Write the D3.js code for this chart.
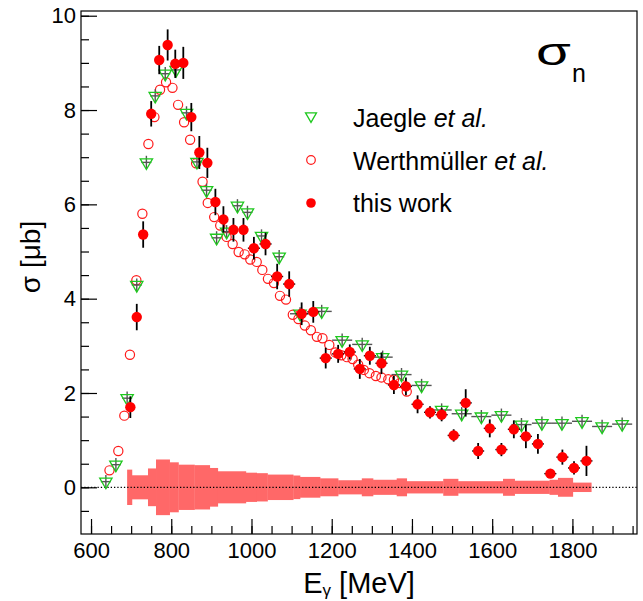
<!DOCTYPE html>
<html>
<head>
<meta charset="utf-8">
<script src="https://cdn.jsdelivr.net/npm/d3@7"></script>
<style>
  body { margin: 0; background: #fff; }
  svg text { font-family: "Liberation Sans", Arial, Helvetica, sans-serif; }
</style>
</head>
<body>
<div id="container"></div>
<script>
/* CONSTANTS AND GLOBALS */
const width = 643,
  height = 601,
  frame = { left: 81, right: 637, top: 11, bottom: 534 };

/* DATA */
// this work (red filled)
const thisE = [698, 714, 730, 750, 770, 791, 810, 830, 850, 870, 890, 910, 930, 955, 980,
  1006, 1035, 1064, 1094, 1125, 1154, 1185, 1216, 1245, 1270, 1295, 1324, 1355, 1385, 1414,
  1445, 1474, 1504, 1534, 1565, 1594, 1623, 1654, 1684, 1714, 1745, 1775, 1804, 1835];
const thisV = [1.70, 3.61, 5.36, 7.92, 9.06, 9.38, 8.98, 9.00, 7.85, 7.10, 6.88, 6.05, 5.68, 5.46, 5.46,
  5.07, 5.16, 4.47, 4.31, 3.68, 3.72, 2.74, 2.83, 2.87, 2.51, 2.79, 2.63, 2.17, 2.14, 1.76,
  1.59, 1.54, 1.10, 1.79, 0.77, 1.25, 0.80, 1.23, 1.08, 0.92, 0.29, 0.64, 0.41, 0.56];
const thisErr = [0.23, 0.28, 0.28, 0.27, 0.30, 0.33, 0.30, 0.34, 0.30, 0.35, 0.32, 0.28, 0.28, 0.25, 0.25,
  0.24, 0.24, 0.27, 0.27, 0.24, 0.23, 0.22, 0.19, 0.16, 0.21, 0.19, 0.23, 0.19, 0.19, 0.19,
  0.13, 0.14, 0.13, 0.29, 0.17, 0.19, 0.14, 0.19, 0.25, 0.21, 0.08, 0.16, 0.14, 0.32];

// Jaegle et al. (green open triangles)
const jaeE = [637, 662, 690, 714, 738, 760, 785, 812, 838, 864, 888, 913, 938, 965, 990,
  1025, 1069, 1121, 1175, 1226, 1276, 1327, 1374, 1424, 1474, 1524, 1573, 1623, 1673, 1724,
  1774, 1824, 1874, 1924];
const jaeV = [0.12, 0.48, 1.89, 4.29, 6.89, 8.30, 8.77, 8.85, 7.94, 6.90, 6.30, 5.29, 5.42, 5.97, 5.83,
  5.33, 4.89, 3.68, 3.73, 3.12, 3.03, 2.76, 2.39, 2.16, 1.64, 1.56, 1.50, 1.53, 1.33, 1.36,
  1.36, 1.40, 1.29, 1.34];

// Werthmüller et al. (red open circles)
const werE = [646, 668, 683, 697, 713, 728, 743, 758, 772, 787, 803, 817, 832, 847, 862,
  878, 891, 907, 922, 938, 953, 968, 983, 997, 1013, 1027, 1041, 1056, 1071, 1086,
  1103, 1117, 1133, 1148, 1163, 1177, 1194, 1209, 1224, 1238, 1252, 1266, 1280, 1294, 1310,
  1324, 1341, 1355, 1370, 1387];
const werV = [0.36, 0.77, 1.52, 2.81, 4.39, 5.80, 7.28, 7.85, 8.43, 8.59, 8.47, 8.11, 7.74, 7.37, 6.87,
  6.48, 6.03, 5.73, 5.55, 5.31, 5.16, 4.99, 4.94, 4.83, 4.78, 4.61, 4.42, 4.33, 4.06, 3.98,
  3.66, 3.57, 3.43, 3.33, 3.19, 3.16, 3.02, 2.86, 2.80, 2.76, 2.72, 2.60, 2.49, 2.42, 2.36,
  2.33, 2.29, 2.28, 2.21, 2.03];

// systematic band (bin edges, half height)
const bandEdges = [690, 702, 742, 762, 796, 818, 858, 896, 916, 986, 1013, 1040, 1104, 1121, 1171,
  1216, 1275, 1303, 1362, 1387, 1478, 1515, 1627, 1656, 1743, 1764, 1801, 1847];
const bandHalf = [0.375, 0.255, 0.40, 0.59, 0.53, 0.48, 0.47, 0.41, 0.34, 0.31, 0.30, 0.27, 0.25, 0.22,
  0.19, 0.15, 0.19, 0.16, 0.19, 0.13, 0.18, 0.13, 0.18, 0.14, 0.16, 0.20, 0.10];

const xMajor = [600, 800, 1000, 1200, 1400, 1600, 1800];
const yMajor = [0, 2, 4, 6, 8, 10];

const thisWork = thisE.map((e, i) => ({ e: e, v: thisV[i], err: thisErr[i] }));
const jaegle = jaeE.map((e, i) => ({ e: e, v: jaeV[i] }));
const werth = werE.map((e, i) => ({ e: e, v: werV[i] }));
const band = bandHalf.map((h, i) => ({ lo: bandEdges[i], hi: bandEdges[i + 1], h: h }));

const svg = d3.select("#container")
  .append("svg")
  .attr("width", width)
  .attr("height", height)
  .style("background-color", "#fff");

/* SCALES */
const xScale = d3.scaleLinear()
  .domain([575, 1961])
  .range([frame.left, frame.right]);

const yScale = d3.scaleLinear()
  .domain([-0.99, 10.1])
  .range([frame.bottom, frame.top]);

svg.append("clipPath").attr("id", "clip")
  .append("rect")
  .attr("x", frame.left).attr("y", frame.top)
  .attr("width", frame.right - frame.left)
  .attr("height", frame.bottom - frame.top);

const plot = svg.append("g").attr("clip-path", "url(#clip)");

// band
plot.selectAll(".band")
  .data(band)
  .join("rect")
  .attr("class", "band")
  .attr("x", d => xScale(d.lo))
  .attr("width", d => xScale(d.hi) - xScale(d.lo) + 0.3)
  .attr("y", d => yScale(d.h))
  .attr("height", d => yScale(-d.h) - yScale(d.h))
  .attr("fill", "#ff6868");

// zero line
plot.append("line")
  .attr("x1", xScale(575)).attr("x2", xScale(1961))
  .attr("y1", yScale(0)).attr("y2", yScale(0))
  .attr("stroke", "#000")
  .attr("stroke-width", 1.3)
  .attr("stroke-dasharray", "1.3,2");

// Werthmuller
plot.selectAll(".wer")
  .data(werth)
  .join("circle")
  .attr("class", "wer")
  .attr("cx", d => xScale(d.e))
  .attr("cy", d => yScale(d.v))
  .attr("r", 4.6)
  .attr("fill", "none")
  .attr("stroke", "#ff1a1a")
  .attr("stroke-width", 1.2);

// Jaegle error bars
const jHalf = d => d.e < 1100 ? 12.5 : 25;
plot.selectAll(".jx")
  .data(jaegle)
  .join("line")
  .attr("class", "jx")
  .attr("x1", d => xScale(d.e - jHalf(d)))
  .attr("x2", d => xScale(d.e + jHalf(d)))
  .attr("y1", d => yScale(d.v))
  .attr("y2", d => yScale(d.v))
  .attr("stroke", "#555")
  .attr("stroke-width", 1.4);

plot.selectAll(".jy")
  .data(jaegle)
  .join("line")
  .attr("class", "jy")
  .attr("x1", d => xScale(d.e))
  .attr("x2", d => xScale(d.e))
  .attr("y1", d => yScale(d.v + 0.14))
  .attr("y2", d => yScale(d.v - 0.14))
  .attr("stroke", "#555")
  .attr("stroke-width", 1.4);

const tri = d3.symbol(d3.symbolTriangle, 66);
plot.selectAll(".jae")
  .data(jaegle)
  .join("path")
  .attr("class", "jae")
  .attr("d", tri)
  .attr("transform", d => `translate(${xScale(d.e)},${yScale(d.v)}) rotate(180)`)
  .attr("fill", "none")
  .attr("stroke", "#1ec81e")
  .attr("stroke-width", 1.3);

// this work error bars
const tHalf = d => d.e < 1000 ? 9 : 15;
plot.selectAll(".tx")
  .data(thisWork)
  .join("line")
  .attr("class", "tx")
  .attr("x1", d => xScale(d.e - tHalf(d)))
  .attr("x2", d => xScale(d.e + tHalf(d)))
  .attr("y1", d => yScale(d.v))
  .attr("y2", d => yScale(d.v))
  .attr("stroke", "#000")
  .attr("stroke-width", 1.4);

plot.selectAll(".ty")
  .data(thisWork)
  .join("line")
  .attr("class", "ty")
  .attr("x1", d => xScale(d.e))
  .attr("x2", d => xScale(d.e))
  .attr("y1", d => yScale(d.v + d.err))
  .attr("y2", d => yScale(d.v - d.err))
  .attr("stroke", "#000")
  .attr("stroke-width", 1.8);

plot.selectAll(".dot")
  .data(thisWork)
  .join("circle")
  .attr("class", "dot")
  .attr("cx", d => xScale(d.e))
  .attr("cy", d => yScale(d.v))
  .attr("r", 5.2)
  .style("fill", "#ff0000");

/* AXES */
const fixAxis = g => {
  g.select(".domain").remove();
  g.selectAll("line").attr("stroke", "#000").attr("stroke-width", 1.2);
  g.attr("font-family", "Liberation Sans, Arial, sans-serif").attr("font-size", 22);
  g.selectAll("text").attr("fill", "#000");
};

svg.append("g")
  .attr("transform", `translate(0,${frame.bottom})`)
  .call(d3.axisBottom(xScale).tickValues(d3.range(600, 1951, 50)).tickSize(-8).tickFormat(""))
  .call(fixAxis);

svg.append("g")
  .attr("transform", `translate(0,${frame.bottom})`)
  .call(d3.axisBottom(xScale).tickValues(xMajor).tickSize(-15).tickPadding(8.7).tickFormat(d3.format("d")))
  .call(fixAxis);

svg.append("g")
  .attr("transform", `translate(${frame.left},0)`)
  .call(d3.axisLeft(yScale).tickValues(d3.range(-0.5, 10.01, 0.5)).tickSize(-8).tickFormat(""))
  .call(fixAxis);

svg.append("g")
  .attr("transform", `translate(${frame.left},0)`)
  .call(d3.axisLeft(yScale).tickValues(yMajor).tickSize(-16).tickPadding(5).tickFormat(d3.format("d")))
  .call(fixAxis);

// frame
svg.append("rect")
  .attr("x", frame.left).attr("y", frame.top)
  .attr("width", frame.right - frame.left)
  .attr("height", frame.bottom - frame.top)
  .attr("fill", "none")
  .attr("stroke", "#000")
  .attr("stroke-width", 1.2);

/* TITLES */
const xt = svg.append("text")
  .attr("x", (frame.left + frame.right) / 2)
  .attr("y", 593)
  .attr("text-anchor", "middle")
  .attr("font-size", 29);
xt.append("tspan").text("E");
xt.append("tspan").attr("font-size", 17).attr("dy", 3).text("γ");
xt.append("tspan").attr("dy", -3).text(" [MeV]");

svg.append("text")
  .attr("transform", "rotate(-90)")
  .attr("x", -257)
  .attr("y", 40)
  .attr("text-anchor", "middle")
  .attr("font-size", 28)
  .text("σ [μb]");

// sigma_n label, the sigma drawn wide like the reference
svg.append("text")
  .attr("transform", "translate(536,65) scale(1.45,1)")
  .attr("font-size", 39)
  .text("σ");
svg.append("text")
  .attr("x", 572)
  .attr("y", 82)
  .attr("font-size", 25)
  .text("n");

/* LEGEND */
const legX = 311, legTextX = 353;
svg.append("path")
  .attr("d", d3.symbol(d3.symbolTriangle, 52))
  .attr("transform", `translate(${legX},116) rotate(180)`)
  .attr("fill", "none").attr("stroke", "#1ec81e").attr("stroke-width", 1.3);
svg.append("circle")
  .attr("cx", legX).attr("cy", 160).attr("r", 4.3)
  .attr("fill", "none").attr("stroke", "#ff1a1a").attr("stroke-width", 1.2);
svg.append("circle")
  .attr("cx", legX).attr("cy", 203).attr("r", 4.8)
  .attr("fill", "#ff0000");

const legItems = [
  { y: 127, main: "Jaegle ", it: "et al." },
  { y: 170, main: "Werthmüller ", it: "et al." },
  { y: 212, main: "this work", it: "" }
];
legItems.forEach(d => {
  const t = svg.append("text")
    .attr("x", legTextX).attr("y", d.y)
    .attr("font-size", 25)
    .style("white-space", "pre");
  t.append("tspan").text(d.main);
  if (d.it) t.append("tspan").attr("font-style", "italic").text(d.it);
});
</script>
</body>
</html>
